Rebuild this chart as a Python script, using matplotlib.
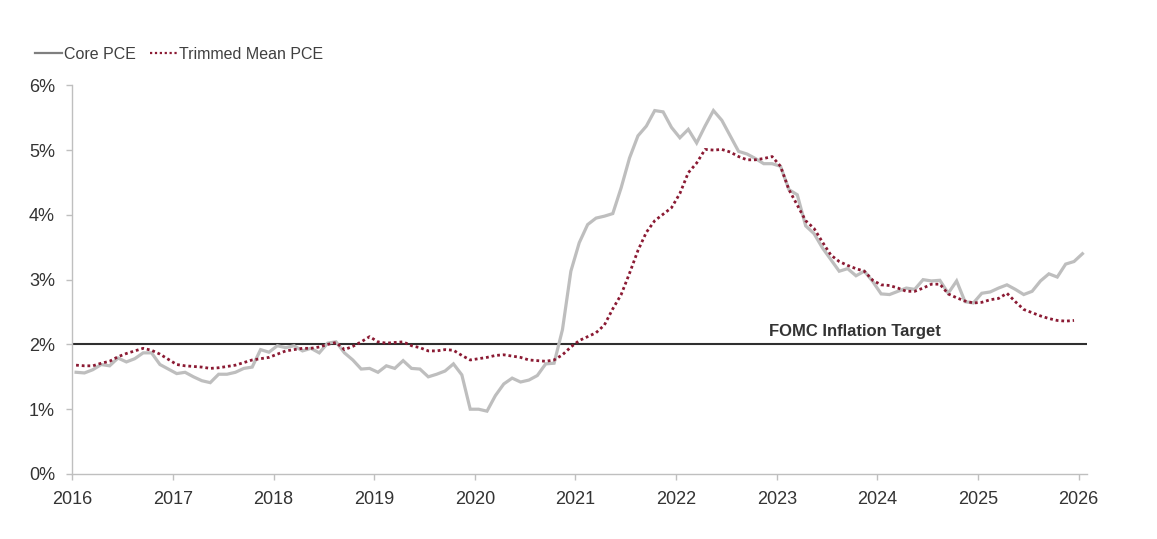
import matplotlib
matplotlib.use("Agg")
import matplotlib.pyplot as plt
from matplotlib.lines import Line2D
import numpy as np

plt.rcParams['font.family'] = ['Liberation Sans', 'DejaVu Sans']

start_year = 2016
years = list(range(2016, 2027))
ytick_vals = [0, 1, 2, 3, 4, 5, 6]
ytick_labels = ['0%', '1%', '2%', '3%', '4%', '5%', '6%']
target = 2.0
target_label = 'FOMC Inflation Target'

core_pce = [
    1.57, 1.56, 1.61, 1.69, 1.67, 1.79, 1.73, 1.78, 1.87, 1.87, 1.69, 1.62,
    1.55, 1.57, 1.50, 1.44, 1.41, 1.54, 1.54, 1.57, 1.63, 1.65, 1.92, 1.88,
    1.98, 1.95, 1.98, 1.90, 1.94, 1.87, 2.02, 2.04, 1.87, 1.76, 1.62, 1.63,
    1.57, 1.67, 1.63, 1.75, 1.63, 1.62, 1.50, 1.54, 1.59, 1.70, 1.53, 1.00,
    1.00, 0.97, 1.21, 1.39, 1.48, 1.42, 1.45, 1.52, 1.70, 1.71, 2.23, 3.13,
    3.57, 3.85, 3.95, 3.98, 4.02, 4.42, 4.88, 5.22, 5.37, 5.61, 5.59, 5.35,
    5.19, 5.32, 5.11, 5.37, 5.61, 5.46, 5.22, 4.98, 4.94, 4.87, 4.79, 4.79,
    4.75, 4.39, 4.31, 3.83, 3.71, 3.49, 3.31, 3.13, 3.17, 3.06, 3.13, 2.97,
    2.78, 2.77, 2.82, 2.87, 2.85, 3.00, 2.98, 2.99, 2.79, 2.98, 2.66, 2.64,
    2.79, 2.81, 2.87, 2.92, 2.85, 2.77, 2.82, 2.98, 3.09, 3.04, 3.24, 3.28,
    3.40,
]

trimmed_mean_pce = [
    1.68, 1.67, 1.67, 1.71, 1.74, 1.81, 1.86, 1.90, 1.94, 1.91, 1.85, 1.77,
    1.69, 1.67, 1.66, 1.65, 1.63, 1.64, 1.66, 1.68, 1.72, 1.76, 1.78, 1.80,
    1.85, 1.90, 1.92, 1.94, 1.94, 1.96, 2.00, 2.03, 1.92, 1.97, 2.04, 2.12,
    2.04, 2.02, 2.03, 2.04, 1.98, 1.95, 1.90, 1.90, 1.92, 1.91, 1.83, 1.76,
    1.78, 1.80, 1.83, 1.84, 1.82, 1.80, 1.76, 1.75, 1.74, 1.76, 1.84, 1.96,
    2.06, 2.12, 2.18, 2.30, 2.55, 2.77, 3.10, 3.45, 3.73, 3.91, 4.01, 4.11,
    4.33, 4.65, 4.80, 5.01, 5.00, 5.01, 4.97, 4.90, 4.85, 4.85, 4.87, 4.90,
    4.75, 4.39, 4.15, 3.91, 3.79, 3.58, 3.38, 3.28, 3.22, 3.17, 3.13, 2.99,
    2.92, 2.91, 2.87, 2.82, 2.82, 2.87, 2.93, 2.93, 2.78, 2.72, 2.67, 2.64,
    2.65, 2.69, 2.71, 2.79, 2.66, 2.54, 2.49, 2.44, 2.40, 2.37, 2.36, 2.37,
]

x_core = start_year + (np.arange(len(core_pce)) + 0.45) / 12.0
x_trim = start_year + (np.arange(len(trimmed_mean_pce)) + 0.45) / 12.0

fig = plt.figure(figsize=(11.57, 5.39), dpi=100)
ax = fig.add_axes([72.3 / 1157, 1 - 474 / 539, (1086.7 - 72.3) / 1157, (474 - 85.3) / 539])

text_color = '#333333'
spine_color = '#BFBFBF'
red = '#8B1A33'

ax.axhline(target, color='#2F2F2F', lw=1.5, zorder=1)
ax.plot(x_core, core_pce, color='#BEBEBE', lw=2.3, zorder=2, solid_joinstyle='miter')
ax.plot(x_trim, trimmed_mean_pce, color=red, lw=2.0, linestyle=(0, (1, 1.05)), zorder=3)

ax.set_xlim(2016, 2026.08)
ax.set_ylim(0, 6)
ax.set_xticks(years)
ax.set_xticklabels([str(y) for y in years])
ax.set_yticks(ytick_vals)
ax.set_yticklabels(ytick_labels)

for s in ['top', 'right']:
    ax.spines[s].set_visible(False)
for s in ['left', 'bottom']:
    ax.spines[s].set_color(spine_color)
    ax.spines[s].set_linewidth(1.0)

ax.tick_params(axis='both', colors=spine_color, labelcolor=text_color, labelsize=13,
               direction='out', length=4.5, width=1.0)
ax.tick_params(axis='y', pad=8)
ax.tick_params(axis='x', pad=8)

ax.text(2023.78, target + 0.09, target_label, fontsize=12, fontweight='bold',
        color=text_color, ha='center', va='bottom')

h1 = Line2D([], [], color='#7F7F7F', lw=1.6)
h2 = Line2D([], [], color=red, lw=1.6, linestyle=(0, (1, 1.2)))
leg = fig.legend(handles=[h1, h2], labels=['Core PCE', 'Trimmed Mean PCE'],
                 loc='upper left', bbox_to_anchor=(35 / 1157, 1 - 47 / 539),
                 ncol=2, frameon=False, fontsize=11.5, handlelength=1.7, handletextpad=0.1,
                 columnspacing=0.9, labelcolor='#404040', borderaxespad=0, borderpad=0)

fig.savefig('out.png', dpi=100)
